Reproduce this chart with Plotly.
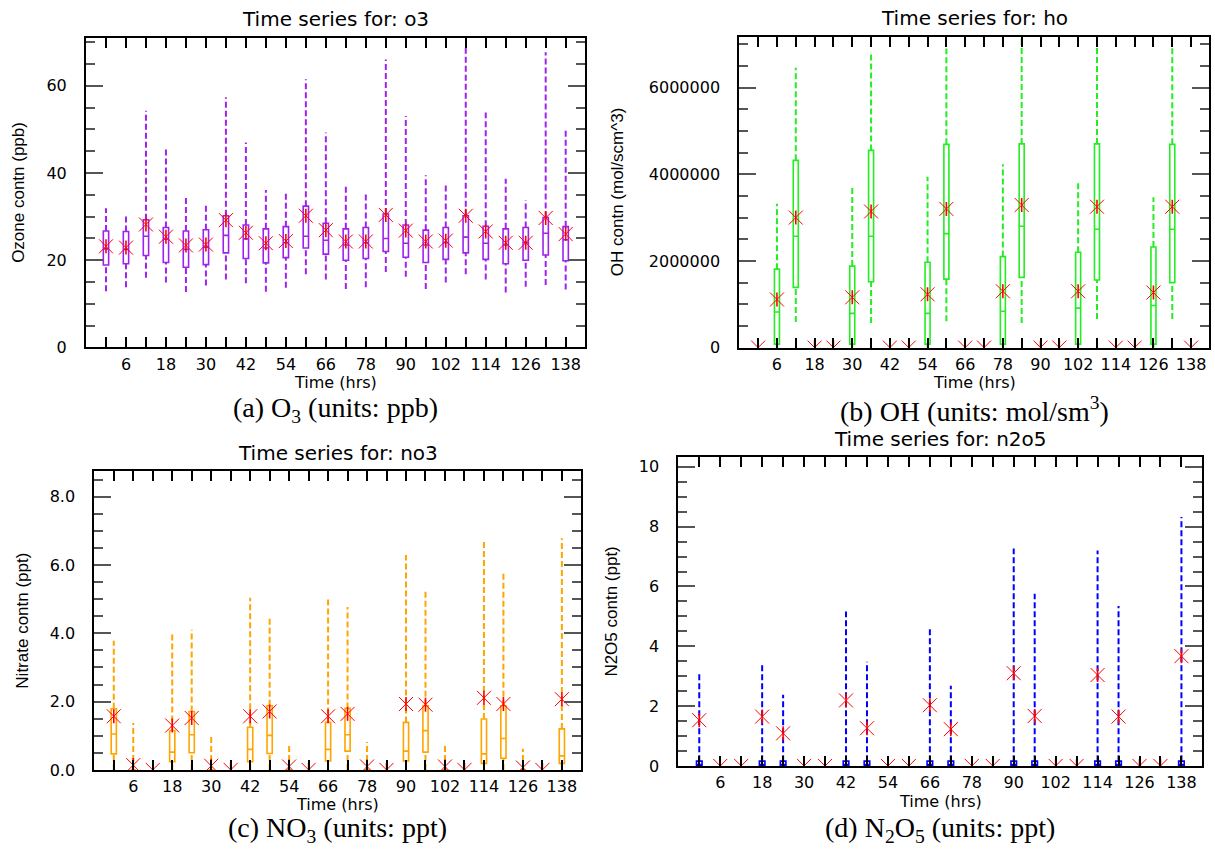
import plotly.graph_objects as go

W, H = 1215, 855

# ---------------- data ----------------
times = list(range(0, 139, 6))
x_tick_vals = [6, 18, 30, 42, 54, 66, 78, 90, 102, 114, 126, 138]
x_tick_labels = ["6", "18", "30", "42", "54", "66", "78", "90", "102", "114", "126", "138"]

# (a) O3, ppb
o3_hi = [31.9, 30.4, 54.3, 45.4, 34.8, 32.5, 57.4, 47.0, 36.1, 35.4, 61.5, 49.3,
         37.0, 35.7, 66.0, 53.1, 39.5, 37.4, 69.1, 53.9, 38.7, 33.8, 67.7, 50.3]
o3_q3 = [26.7, 26.6, 29.3, 27.5, 26.7, 27.0, 30.2, 28.1, 27.2, 27.7, 32.4, 28.5,
         27.2, 27.5, 30.6, 28.1, 26.9, 27.5, 30.2, 27.8, 27.2, 27.5, 29.8, 27.7]
o3_med = [22.6, 22.5, 25.5, 24.8, 22.5, 23.0, 25.7, 24.9, 22.8, 24.0, 25.5, 24.6,
          23.5, 24.0, 25.0, 23.9, 23.5, 24.0, 25.3, 23.9, 23.5, 24.0, 26.2, 24.7]
o3_q1 = [18.9, 19.2, 21.1, 19.5, 18.4, 19.0, 21.7, 20.4, 19.4, 20.6, 22.8, 21.4,
         20.0, 20.4, 22.0, 20.7, 19.5, 20.2, 21.7, 20.2, 19.2, 20.0, 21.2, 19.9]
o3_lo = [12.9, 13.8, 16.0, 14.9, 12.7, 14.2, 15.6, 14.7, 12.8, 13.7, 16.8, 15.6,
         13.4, 13.8, 17.3, 16.2, 13.4, 14.9, 16.8, 15.6, 12.6, 13.9, 14.3, 13.3]
o3_mean = [23.2, 22.9, 28.2, 25.4, 23.4, 23.6, 29.2, 26.3, 23.9, 24.4, 30.2, 26.9,
           24.3, 24.3, 30.4, 26.8, 24.3, 24.5, 30.2, 26.6, 24.0, 24.0, 29.7, 26.0]

# (b) OH, mol/cm^3
oh_hi = [None, 3.32e6, 6.46e6, None, None, 3.68e6, 6.78e6, None, None, 3.94e6, 6.90e6, None,
         None, 4.23e6, 7.30e6, None, None, 3.86e6, 7.30e6, None, None, 3.47e6, 6.91e6, None]
oh_q3 = [None, 1.81e6, 4.32e6, None, None, 1.88e6, 4.55e6, None, None, 1.97e6, 4.69e6, None,
         None, 2.10e6, 4.70e6, None, None, 2.20e6, 4.70e6, None, None, 2.32e6, 4.69e6, None]
oh_med = [None, 0.82e6, 2.57e6, None, None, 0.79e6, 2.57e6, None, None, 0.79e6, 2.63e6, None,
          None, 0.84e6, 2.80e6, None, None, 0.91e6, 2.73e6, None, None, 0.97e6, 2.73e6, None]
oh_q1 = [None, 0.08e6, 1.39e6, None, None, 0.08e6, 1.52e6, None, None, 0.08e6, 1.58e6, None,
         None, 0.08e6, 1.62e6, None, None, 0.08e6, 1.56e6, None, None, 0.08e6, 1.50e6, None]
oh_lo = [None, 0.0, 0.59e6, None, None, 0.0, 0.57e6, None, None, 0.0, 0.61e6, None,
         None, 0.0, 0.57e6, None, None, 0.0, 0.66e6, None, None, 0.0, 0.66e6, None]
oh_mean = [0, 1.11e6, 3.00e6, 0, 0, 1.16e6, 3.14e6, 0, 0, 1.23e6, 3.20e6, 0,
           0, 1.30e6, 3.29e6, 0, 0, 1.30e6, 3.25e6, 0, 0, 1.27e6, 3.25e6, 0]

# (c) NO3, ppt
no3_hi = [3.78, 1.37, None, 4.00, 4.10, 1.01, None, 5.04, 4.43, 0.76, None, 5.04,
          4.77, 0.82, None, 6.29, 5.30, 0.74, None, 6.71, 5.81, 0.62, None, 6.78]
no3_q3 = [1.79, 0.0, None, 1.15, 1.71, 0.0, None, 1.25, 1.88, 0.0, None, 1.39,
          1.80, 0.0, None, 1.39, 1.88, 0.0, None, 1.49, 1.88, 0.0, None, 1.20]
no3_med = [1.05, 0.0, None, 0.52, 1.03, 0.0, None, 0.60, 1.01, 0.0, None, 0.60,
           1.03, 0.0, None, 0.55, 1.15, 0.0, None, 0.47, 0.92, 0.0, None, 0.41]
no3_q1 = [0.47, 0.0, None, 0.24, 0.50, 0.0, None, 0.24, 0.48, 0.0, None, 0.26,
          0.55, 0.0, None, 0.26, 0.52, 0.0, None, 0.19, 0.34, 0.0, None, 0.19]
no3_lo = [0.0, 0.0, None, 0.0, 0.0, 0.0, None, 0.0, 0.0, 0.0, None, 0.0,
          0.0, 0.0, None, 0.0, 0.0, 0.0, None, 0.0, 0.0, 0.0, None, 0.0]
no3_mean = [1.57, 0.14, 0.0, 1.30, 1.52, 0.12, 0.0, 1.57, 1.71, 0.10, 0.0, 1.57,
            1.64, 0.10, 0.0, 1.93, 1.91, 0.10, 0.0, 2.11, 1.93, 0.07, 0.0, 2.07]

# (d) N2O5, ppt
n2o5_hi = [3.15, None, None, 3.46, 2.38, None, None, 5.16, 3.48, None, None, 4.58,
           2.68, None, None, 7.27, 5.76, None, None, 7.20, 5.35, None, None, 8.32]
n2o5_q3 = [0.16, None, None, 0.16, 0.16, None, None, 0.16, 0.16, None, None, 0.16,
           0.16, None, None, 0.16, 0.16, None, None, 0.16, 0.16, None, None, 0.16]
n2o5_med = [0.05, None, None, 0.05, 0.05, None, None, 0.05, 0.05, None, None, 0.05,
            0.05, None, None, 0.05, 0.05, None, None, 0.05, 0.05, None, None, 0.05]
n2o5_q1 = [0.0, None, None, 0.0, 0.0, None, None, 0.0, 0.0, None, None, 0.0,
           0.0, None, None, 0.0, 0.0, None, None, 0.0, 0.0, None, None, 0.0]
n2o5_lo = [0.0, None, None, 0.0, 0.0, None, None, 0.0, 0.0, None, None, 0.0,
           0.0, None, None, 0.0, 0.0, None, None, 0.0, 0.0, None, None, 0.0]
n2o5_mean = [1.53, 0, 0, 1.65, 1.09, 0, 0, 2.19, 1.26, 0, 0, 2.03,
             1.23, 0, 0, 3.10, 1.67, 0, 0, 3.04, 1.65, 0, 0, 3.67]

# ---------------- layout helpers ----------------
def fx(px):
    return px / W

def fy(py):
    return 1 - py / H

TITLE_FONT = dict(family="DejaVu Sans", size=20, color="black")
TICK_FONT = dict(family="DejaVu Sans", size=16, color="black")
XT_FONT = dict(family="DejaVu Sans", size=16, color="black")
YT_FONT = dict(family="Liberation Sans Narrow, Liberation Sans, Arial", size=17, color="black")
CAP_FONT = dict(family="Liberation Serif, Times New Roman", size=28, color="black")

panels = [
    dict(xd=(86, 585), yd=(38.7, 351.6), color="#a020f0", yr=[0, 70.9], dtick=20, minor=5,
         fmt="d", title="Time series for: o3", title_y=19, ytitle="Ozone contn (ppb)", ytx=19,
         xtitle_y=387, cap="(a) O<sub>3</sub> (units: ppb)", cap_y=414,
         d=(o3_lo, o3_q1, o3_med, o3_q3, o3_hi, o3_mean)),
    dict(xd=(739.3, 1209.3), yd=(37.3, 351.7), color="#22ee22", yr=[0, 7.17e6], dtick=2e6,
         minor=5e5, fmt="d", title="Time series for: ho", title_y=18,
         ytitle="OH contn (mol/scm^3)", ytx=617, xtitle_y=387,
         cap="(b) OH (units: mol/sm<sup>3</sup>)", cap_y=414,
         d=(oh_lo, oh_q1, oh_med, oh_q3, oh_hi, oh_mean)),
    dict(xd=(94.3, 580.7), yd=(477, 779), color="#ffa500", yr=[0, 8.74], dtick=2, minor=0.5,
         fmt=".1f", title="Time series for: no3", title_y=458, ytitle="Nitrate contn (ppt)",
         ytx=23, xtitle_y=814, cap="(c) NO<sub>3</sub> (units: ppt)", cap_y=839,
         d=(no3_lo, no3_q1, no3_med, no3_q3, no3_hi, no3_mean)),
    dict(xd=(678.3, 1201.7), yd=(462.7, 775), color="#0000ff", yr=[0, 10.32], dtick=2,
         minor=0.5, fmt="d", title="Time series for: n2o5", title_y=444,
         ytitle="N2O5 contn (ppt)", ytx=612, xtitle_y=811,
         cap="(d) N<sub>2</sub>O<sub>5</sub> (units: ppt)", cap_y=839,
         d=(n2o5_lo, n2o5_q1, n2o5_med, n2o5_q3, n2o5_hi, n2o5_mean)),
]

fig = go.Figure()
annotations = []
layout_axes = {}

for i, p in enumerate(panels):
    k = "" if i == 0 else str(i + 1)
    xa, ya = "x" + k, "y" + k
    lo, q1, med, q3, hi, mean = p["d"]
    col = p["color"]

    # boxes
    bx = [t for t, v in zip(times, q3) if v is not None]
    bq1 = [v for v in q1 if v is not None]
    bmed = [v for v in med if v is not None]
    bq3 = [v for v in q3 if v is not None]
    fig.add_trace(go.Box(
        x=bx, q1=bq1, median=bmed, q3=bq3, lowerfence=bq1, upperfence=bq3,
        width=1.6, whiskerwidth=0, boxpoints=False,
        line=dict(color=col, width=1.6), fillcolor="rgba(255,255,255,0)",
        showlegend=False, hoverinfo="skip", xaxis=xa, yaxis=ya))

    # dashed whiskers
    wx, wy = [], []
    for t, a, b, c, d in zip(times, lo, q1, q3, hi):
        if d is None:
            continue
        wx += [t, t, None, t, t, None]
        wy += [c, d, None, a, b, None]
    fig.add_trace(go.Scatter(
        x=wx, y=wy, mode="lines", line=dict(color=col, width=2, dash="6px,3px"),
        showlegend=False, hoverinfo="skip", xaxis=xa, yaxis=ya))

    # means: asterisk
    fig.add_trace(go.Scatter(
        x=times, y=mean, mode="markers",
        marker=dict(symbol="x-thin-open", size=14, color="red", line=dict(width=1, color="red")),
        showlegend=False, hoverinfo="skip", xaxis=xa, yaxis=ya))
    fig.add_trace(go.Scatter(
        x=times, y=mean, mode="markers",
        marker=dict(symbol="line-ns-open", size=10, color="red", line=dict(width=1.6, color="red")),
        showlegend=False, hoverinfo="skip", xaxis=xa, yaxis=ya))

    layout_axes["xaxis" + k] = dict(
        domain=[fx(p["xd"][0]), fx(p["xd"][1])], anchor=ya, range=[-6, 143.8],
        tickmode="array", tickvals=x_tick_vals, ticktext=x_tick_labels,
        ticks="inside", ticklen=10, tickwidth=1.5, tickcolor="black",
        minor=dict(tick0=0, dtick=6, ticks="inside", ticklen=10, tickwidth=1.5,
                   tickcolor="black", showgrid=False),
        showline=True, linecolor="black", linewidth=2, mirror="ticks",
        showgrid=False, zeroline=False, tickfont=TICK_FONT, ticklabelstandoff=1)
    layout_axes["yaxis" + k] = dict(
        domain=[fy(p["yd"][1]), fy(p["yd"][0])], anchor=xa, range=p["yr"],
        tick0=0, dtick=p["dtick"], tickformat=p["fmt"],
        ticks="inside", ticklen=17, tickwidth=1.5, tickcolor="#555",
        minor=dict(dtick=p["minor"], tick0=0, ticks="inside", ticklen=9, tickwidth=1.5,
                   tickcolor="#555", showgrid=False),
        showline=True, linecolor="black", linewidth=2, mirror="ticks",
        showgrid=False, zeroline=False, tickfont=TICK_FONT, ticklabelstandoff=14)

    cx = fx((p["xd"][0] + p["xd"][1]) / 2)
    cy = (p["yd"][0] + p["yd"][1]) / 2
    annotations += [
        dict(text=p["title"], x=cx, y=fy(p["title_y"]), xref="paper", yref="paper",
             showarrow=False, font=TITLE_FONT, xanchor="center", yanchor="middle"),
        dict(text="Time (hrs)", x=cx, y=fy(p["xtitle_y"]), xref="paper", yref="paper",
             showarrow=False, font=XT_FONT, xanchor="center", yanchor="middle"),
        dict(text=p["ytitle"], x=fx(p["ytx"]), y=fy(cy), xref="paper", yref="paper",
             showarrow=False, font=YT_FONT, textangle=-90, xanchor="center", yanchor="middle"),
        dict(text=p["cap"], x=cx, y=fy(p["cap_y"]), xref="paper", yref="paper",
             showarrow=False, font=CAP_FONT, xanchor="center", yanchor="middle"),
    ]

fig.update_layout(
    width=W, height=H, margin=dict(l=0, r=0, t=0, b=0),
    paper_bgcolor="white", plot_bgcolor="white", showlegend=False,
    annotations=annotations, **layout_axes)

fig.write_html("out.html")
